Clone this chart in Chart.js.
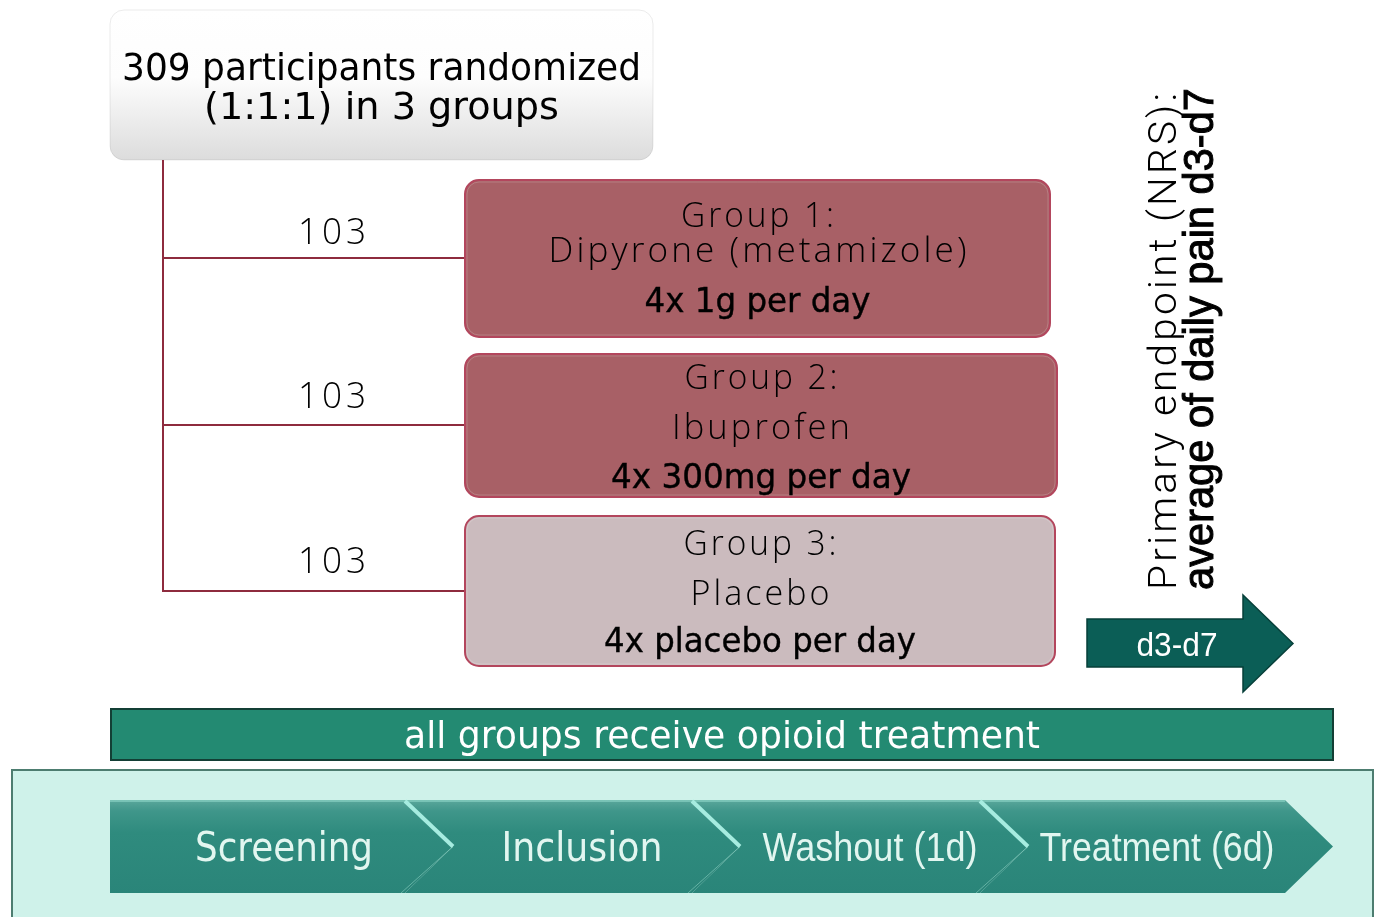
<!DOCTYPE html>
<html><head><meta charset="utf-8">
<script src="https://cdn.jsdelivr.net/npm/chart.js@4.4.1/dist/chart.umd.min.js"></script>
<style>html,body{margin:0;padding:0;background:#fff;overflow:hidden}canvas{display:block}</style>
</head><body>
<canvas id="c" width="1378" height="917"></canvas>
<script>
// ---- data (text & values) ----
const headerLines = ['309 participants randomized', '(1:1:1) in 3 groups'];
const groupTitles = ['Group 1:', 'Group 2:', 'Group 3:'];
const groupDrugs = ['Dipyrone (metamizole)', 'Ibuprofen', 'Placebo'];
const groupDoses = ['4x 1g per day', '4x 300mg per day', '4x placebo per day'];
const groupCounts = [103, 103, 103];
const endpointLines = ['Primary endpoint (NRS):', 'average of daily pain d3-d7'];
const arrowLabel = 'd3-d7';
const bannerLabel = 'all groups receive opioid treatment';
const phases = ['Screening', 'Inclusion', 'Washout (1d)', 'Treatment (6d)'];

// ---- layout (positions / sizes / styles) ----
const LAYOUT = {
  header: {x0:110, x1:653, y0:10, y1:160, base:[80,119], widths:[519,355], size:38},
  trunkX: 163,
  branchY: [258, 425, 591],
  countBase: [244, 408, 573], countX: 332, countW: 68,
  boxes: [
    {x0:465, x1:1050, y0:180, y1:337, fill:'#a86066', base:[227,262,312], w:[153,418,226]},
    {x0:465, x1:1057, y0:354, y1:497, fill:'#a86066', base:[389,439,488], w:[153,178,300]},
    {x0:465, x1:1055, y0:516, y1:666, fill:'#cbbbbe', base:[555,605,652], w:[153,139,312]}
  ],
  endpoint: {start:590, baseX:[1176,1213], len:[497,502]},
  arrow: {x0:1087, x1:1243, tip:1293, y0:619, y1:667, hy0:595, hy1:692},
  banner: {x0:111, x1:1333, y0:709, y1:760, base:748, w:636},
  panel: {x0:12, x1:1373, y0:770, y1:925},
  chevron: {left:110, right:[405,692,980,1285], d:48, y0:800, y1:893,
            cx:[284,582,870,1157], w:[178,161,215,235], base:861}
};

function drawText(ctx, s, x, y, o) {
  ctx.save();
  ctx.font = `${o.weight||'400'} ${o.size}px ${o.family}`;
  ctx.letterSpacing = (o.ls||0) + 'px';
  let w = ctx.measureText(s).width - (o.ls||0);
  const sx = o.width ? o.width / w : 1;
  ctx.translate(x, y);
  if (o.rot) ctx.rotate(o.rot);
  ctx.scale(sx, 1);
  ctx.textAlign = 'left';
  ctx.textBaseline = 'alphabetic';
  ctx.fillStyle = o.color || '#000';
  const x0 = o.align === 'left' ? 0 : -w / 2;
  ctx.fillText(s, x0, 0);
  if (o.stroke) { ctx.strokeStyle = o.color || '#000'; ctx.lineWidth = o.stroke; ctx.strokeText(s, x0, 0); }
  ctx.restore();
}

const diagram = {
  id: 'diagram',
  afterDraw(chart) {
    const ctx = chart.ctx, xs = chart.scales.x, ys = chart.scales.y;
    const X = v => xs.getPixelForValue(v), Y = v => ys.getPixelForValue(v);
    const L = LAYOUT;
    const TAHOMA = "'DejaVu Sans'";
    const ARIAL = "'Liberation Sans'";
    const LIGHT = "'Open Sans'";

    // header box
    const h = L.header;
    let g = ctx.createLinearGradient(0, Y(h.y0), 0, Y(h.y1));
    g.addColorStop(0, '#ffffff'); g.addColorStop(0.45, '#fdfdfd'); g.addColorStop(1, '#dcdcdc');
    ctx.beginPath(); ctx.roundRect(X(h.x0), Y(h.y0), X(h.x1) - X(h.x0), Y(h.y1) - Y(h.y0), 14);
    ctx.fillStyle = g; ctx.fill();
    ctx.strokeStyle = 'rgba(0,0,0,0.08)'; ctx.lineWidth = 1; ctx.stroke();
    const hcx = (X(h.x0) + X(h.x1)) / 2;
    headerLines.forEach((s, i) => drawText(ctx, s, hcx, Y(h.base[i]),
      {size:h.size, family:TAHOMA, width:h.widths[i], color:'#000'}));

    // connectors
    ctx.strokeStyle = '#8e2b3e'; ctx.lineWidth = 2;
    ctx.beginPath();
    ctx.moveTo(X(L.trunkX), Y(h.y1)); ctx.lineTo(X(L.trunkX), Y(L.branchY[2]) + 1);
    L.branchY.forEach(by => { ctx.moveTo(X(L.trunkX), Y(by)); ctx.lineTo(X(L.boxes[0].x0), Y(by)); });
    ctx.stroke();

    // counts
    groupCounts.forEach((n, i) => drawText(ctx, String(n), X(L.countX), Y(L.countBase[i]),
      {size:36, family:LIGHT, weight:'300', ls:4, width:L.countW, color:'#000'}));

    // group boxes
    L.boxes.forEach((b, i) => {
      const x = X(b.x0), y = Y(b.y0), w = X(b.x1) - x, hh = Y(b.y1) - y;
      ctx.beginPath(); ctx.roundRect(x, y, w, hh, 14);
      ctx.fillStyle = b.fill; ctx.fill();
      ctx.strokeStyle = '#b3465d'; ctx.lineWidth = 2; ctx.stroke();
      ctx.beginPath(); ctx.roundRect(x + 2, y + 2, w - 4, hh - 4, 12);
      ctx.strokeStyle = 'rgba(255,255,255,0.18)'; ctx.lineWidth = 1; ctx.stroke();
      const cx = x + w / 2;
      drawText(ctx, groupTitles[i], cx, Y(b.base[0]), {size:34, family:LIGHT, weight:'300', ls:3, width:b.w[0], color:'#000'});
      drawText(ctx, groupDrugs[i], cx, Y(b.base[1]), {size:34, family:LIGHT, weight:'300', ls:3, width:b.w[1], color:'#000'});
      drawText(ctx, groupDoses[i], cx, Y(b.base[2]), {size:33, family:TAHOMA, width:b.w[2], color:'#000', stroke:0.4});
    });

    // endpoint rotated text
    const e = L.endpoint;
    drawText(ctx, endpointLines[0], X(e.baseX[0]), Y(e.start), {size:38, family:"Roboto", weight:'300', ls:3, width:e.len[0], color:'#000', rot:-Math.PI/2, align:'left'});
    drawText(ctx, endpointLines[1], X(e.baseX[1]), Y(e.start), {size:42, family:ARIAL, weight:'400', width:e.len[1], color:'#000', rot:-Math.PI/2, align:'left', stroke:1});

    // arrow
    const a = L.arrow;
    ctx.beginPath();
    ctx.moveTo(X(a.x0), Y(a.y0)); ctx.lineTo(X(a.x1), Y(a.y0)); ctx.lineTo(X(a.x1), Y(a.hy0));
    ctx.lineTo(X(a.tip), (Y(a.hy0) + Y(a.hy1)) / 2); ctx.lineTo(X(a.x1), Y(a.hy1));
    ctx.lineTo(X(a.x1), Y(a.y1)); ctx.lineTo(X(a.x0), Y(a.y1)); ctx.closePath();
    ctx.fillStyle = '#0b5e56'; ctx.fill();
    ctx.strokeStyle = '#063f39'; ctx.lineWidth = 1.5; ctx.stroke();
    drawText(ctx, arrowLabel, (X(a.x0) + X(a.x1)) / 2 + 12, Y(656), {size:33, family:ARIAL, width:81, color:'#ffffff'});

    // banner
    const bn = L.banner;
    ctx.fillStyle = '#238a72';
    ctx.fillRect(X(bn.x0), Y(bn.y0), X(bn.x1) - X(bn.x0), Y(bn.y1) - Y(bn.y0));
    ctx.strokeStyle = '#133f35'; ctx.lineWidth = 2;
    ctx.strokeRect(X(bn.x0), Y(bn.y0), X(bn.x1) - X(bn.x0), Y(bn.y1) - Y(bn.y0));
    drawText(ctx, bannerLabel, (X(bn.x0) + X(bn.x1)) / 2, Y(bn.base), {size:38, family:TAHOMA, width:bn.w, color:'#ffffff'});

    // panel
    const p = L.panel;
    ctx.fillStyle = '#cff2ea';
    ctx.fillRect(X(p.x0), Y(p.y0), X(p.x1) - X(p.x0), Y(p.y1) - Y(p.y0));
    ctx.strokeStyle = '#4d7d70'; ctx.lineWidth = 2;
    ctx.strokeRect(X(p.x0), Y(p.y0), X(p.x1) - X(p.x0), Y(p.y1) - Y(p.y0));

    // chevrons
    const c = L.chevron;
    const t = Y(c.y0), bt = Y(c.y1), mid = (t + bt) / 2, d = c.d;
    g = ctx.createLinearGradient(0, t, 0, bt);
    g.addColorStop(0, '#5aa79b'); g.addColorStop(0.12, '#3f968a'); g.addColorStop(0.35, '#2f8b7e'); g.addColorStop(1, '#2a8579');
    phases.forEach((s, k) => {
      const r = X(c.right[k]);
      ctx.beginPath();
      if (k === 0) {
        ctx.moveTo(X(c.left), t); ctx.lineTo(r, t); ctx.lineTo(r + d, mid); ctx.lineTo(r, bt); ctx.lineTo(X(c.left), bt);
      } else {
        const l = X(c.right[k - 1]);
        ctx.moveTo(l, t); ctx.lineTo(r, t); ctx.lineTo(r + d, mid); ctx.lineTo(r, bt); ctx.lineTo(l, bt); ctx.lineTo(l + d, mid);
      }
      ctx.closePath(); ctx.fillStyle = g; ctx.fill();
    });
    ctx.strokeStyle = 'rgba(150,220,205,0.55)'; ctx.lineWidth = 2;
    ctx.beginPath(); ctx.moveTo(X(c.left), t + 1); ctx.lineTo(X(c.right[3]), t + 1); ctx.stroke();
    c.right.slice(0, 3).forEach(rv => {
      const r = X(rv);
      ctx.strokeStyle = '#a6ece0'; ctx.lineWidth = 4;
      ctx.beginPath(); ctx.moveTo(r, t + 1); ctx.lineTo(r + d, mid); ctx.stroke();
      ctx.strokeStyle = 'rgba(170,230,215,0.45)'; ctx.lineWidth = 1;
      ctx.beginPath(); ctx.moveTo(r + d, mid); ctx.lineTo(r - 4, bt); ctx.stroke();
    });
    phases.forEach((s, k) => {
      const fam = k < 2 ? TAHOMA : ARIAL;
      drawText(ctx, s, X(c.cx[k]), Y(c.base), {size:40, family:fam, width:c.w[k], color:'#e2f6f0'});
    });
  }
};

new Chart(document.getElementById('c'), {
  type: 'scatter',
  data: { datasets: [{ data: [] }] },
  options: {
    responsive: false, animation: false, devicePixelRatio: 1,
    layout: { padding: 0 },
    plugins: { legend: { display: false }, tooltip: { enabled: false } },
    scales: {
      x: { type: 'linear', min: 0, max: 1378, display: false },
      y: { type: 'linear', min: 0, max: 917, reverse: true, display: false }
    }
  },
  plugins: [diagram]
});
</script>
</body></html>
